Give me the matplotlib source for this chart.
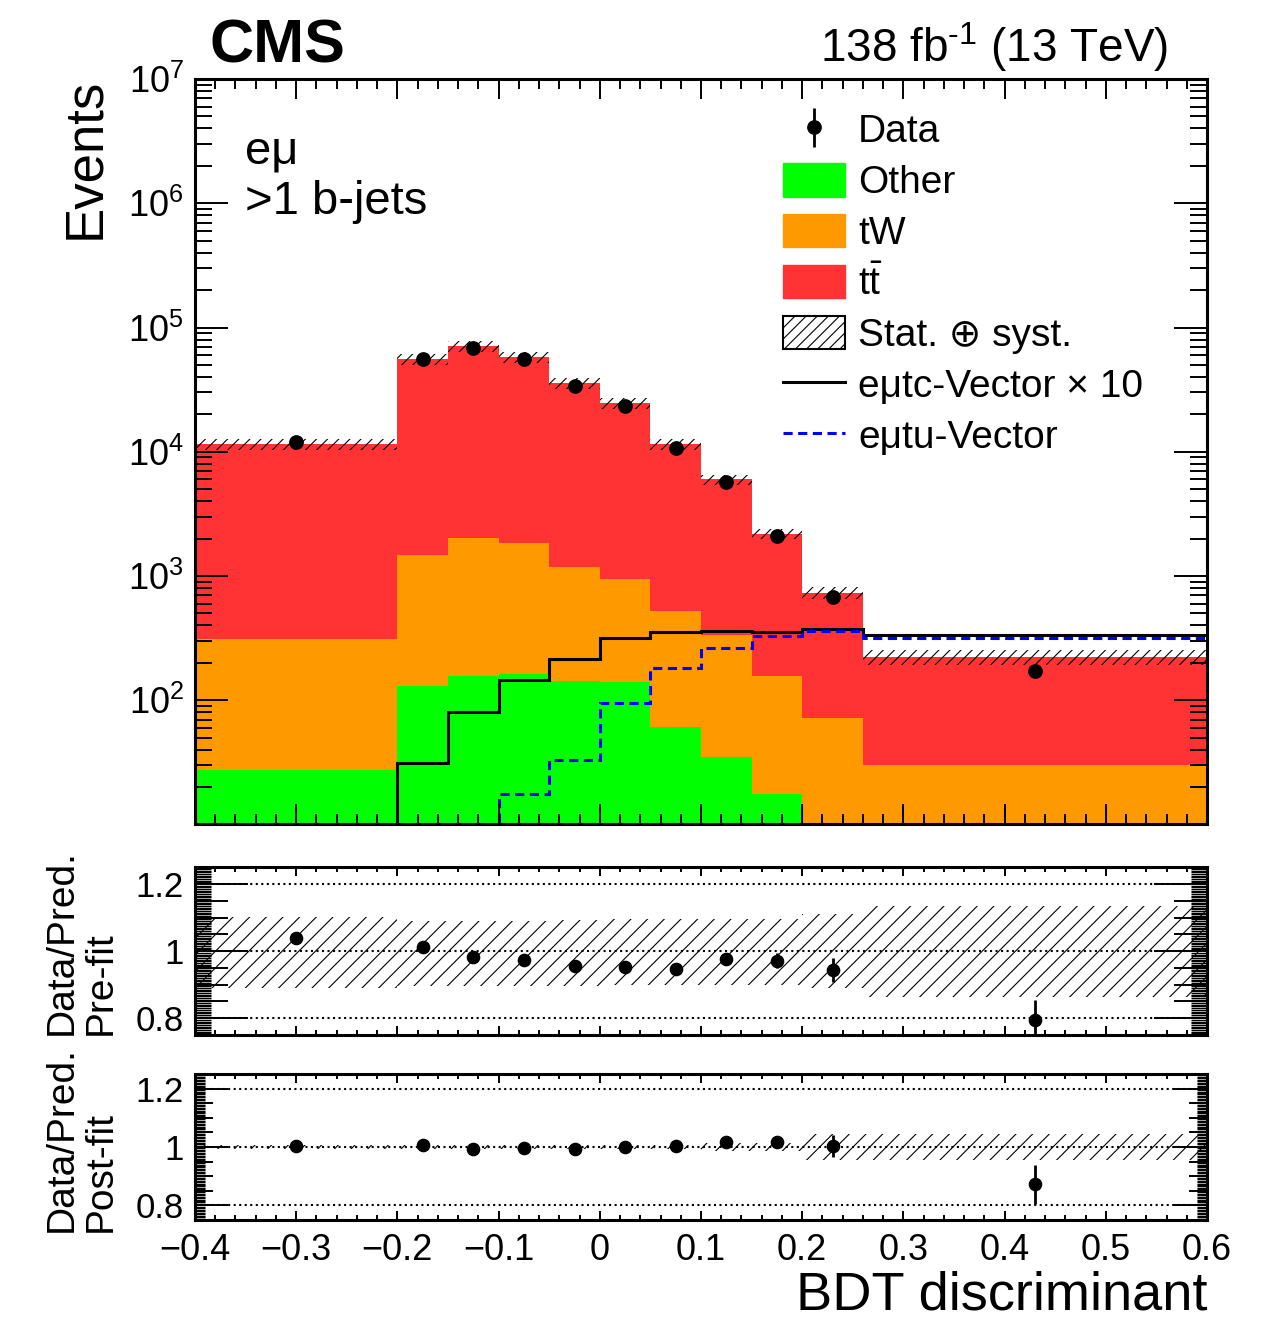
import numpy as np
import matplotlib
matplotlib.use('Agg')
import matplotlib.pyplot as plt
from matplotlib.patches import Patch
from matplotlib.lines import Line2D
from matplotlib.ticker import (FixedLocator, MultipleLocator, LogLocator,
                               FuncFormatter, NullFormatter, LogFormatterMathtext)

plt.rcParams['font.family'] = ['Liberation Sans', 'DejaVu Sans']
plt.rcParams['mathtext.fontset'] = 'custom'
plt.rcParams['mathtext.rm'] = 'Liberation Sans'
plt.rcParams['mathtext.it'] = 'Liberation Sans:italic'
plt.rcParams['mathtext.bf'] = 'Liberation Sans:bold'
plt.rcParams['hatch.linewidth'] = 0.8

# BDT binning (e-mu, >1 b-jets)
edges = np.array([-0.4, -0.2, -0.15, -0.1, -0.05, 0.0, 0.05, 0.1, 0.15, 0.2, 0.26, 0.6])
centers = 0.5 * (edges[1:] + edges[:-1])

data = np.array([12020, 55970, 68650, 55970, 33740, 23280, 10690, 5724, 2117, 679, 171])
data_err = np.array([110, 240, 260, 240, 185, 150, 105, 75, 46, 26, 13])

other = np.array([27.3, 130, 156, 162, 142, 140, 60.7, 34.8, 17.5, 0, 0])
tw = np.array([283, 1360, 1850, 1675, 1040, 800, 460, 299, 138, 72, 30])
ttbar = np.array([11200, 54300, 68800, 56300, 34500, 23800, 11000, 5650, 2040, 659, 192])

sig_tc = np.array([0, 3.11, 8.0, 14.5, 21.4, 31.5, 35.3, 36.0, 35.3, 37.3, 33.4])
sig_tc_scale = 10
sig_tu = np.array([0, 0, 0, 17.5, 32.9, 94.6, 181, 262, 327, 360, 315])

# relative stat+syst uncertainty of the prediction (pre-fit)
pre_unc_up = np.array([0.103, 0.091, 0.091, 0.091, 0.094, 0.096, 0.096, 0.096, 0.096, 0.11, 0.136])
pre_unc_dn = np.array([0.109, 0.105, 0.105, 0.105, 0.103, 0.10, 0.10, 0.10, 0.10, 0.11, 0.138])
post_unc = np.array([0.006, 0.006, 0.006, 0.006, 0.006, 0.006, 0.006, 0.012, 0.012, 0.043, 0.043])

ratio_pre = np.array([1.039, 1.011, 0.984, 0.975, 0.955, 0.954, 0.947, 0.977, 0.972, 0.944, 0.795])
ratio_pre_err = np.array([0.01, 0.005, 0.004, 0.005, 0.006, 0.007, 0.01, 0.014, 0.022, 0.036, 0.06])
ratio_post = np.array([1.003, 1.006, 0.994, 0.997, 0.994, 1.0, 1.002, 1.018, 1.017, 1.003, 0.872])
ratio_post_err = np.array([0.008, 0.004, 0.004, 0.004, 0.005, 0.006, 0.008, 0.012, 0.02, 0.037, 0.066])

RED = '#ff3333'
ORANGE = '#ff9900'
GREEN = '#00ff00'

W, H = 1270, 1320
fig = plt.figure(figsize=(W / 100, H / 100), dpi=100)


def box(l, t, r, b):
    return [l / W, 1 - b / H, (r - l) / W, (b - t) / H]


ax = fig.add_axes(box(195, 79, 1207, 823.5))
ax_pre = fig.add_axes(box(195, 867.3, 1207, 1035))
ax_post = fig.add_axes(box(195, 1074, 1207, 1220))

# ---- main panel: stacked backgrounds
ax.set_yscale('log')
ax.set_xlim(-0.4, 0.6)
ax.set_ylim(10.2, 1e7)

s_other = other
s_tw = other + tw
s_tot = other + tw + ttbar
ax.stairs(s_tot, edges, baseline=1, fill=True, color=RED, lw=0)
ax.stairs(s_tw, edges, baseline=1, fill=True, color=ORANGE, lw=0)
ax.stairs(s_other, edges, baseline=1, fill=True, color=GREEN, lw=0)
ax.stairs(s_tot * (1 + pre_unc_up), edges, baseline=s_tot * (1 - pre_unc_dn), fill=True,
          facecolor='none', edgecolor='k', lw=0, hatch='///')

ax.stairs(sig_tc * sig_tc_scale, edges, baseline=None, color='k', lw=2.2)
ax.stairs(sig_tu, edges, baseline=None, color='#0000ff', lw=2.2, linestyle=(0, (3, 1.8)))

hdata = ax.errorbar(centers, data, yerr=data_err, fmt='o', color='k', ms=9.6,
                    elinewidth=2, capsize=0)

ax.xaxis.set_major_locator(MultipleLocator(0.1))
ax.xaxis.set_minor_locator(MultipleLocator(0.02))
ax.yaxis.set_major_locator(LogLocator(base=10, numticks=20))
ax.yaxis.set_minor_locator(LogLocator(base=10, subs=np.arange(2, 10), numticks=20))
ax.yaxis.set_major_formatter(LogFormatterMathtext())
ax.yaxis.set_minor_formatter(NullFormatter())
ax.tick_params(which='both', direction='in', top=True, right=True, labelbottom=False, width=1.4)
ax.tick_params(axis='x', which='major', length=14.4)
ax.tick_params(axis='x', which='minor', length=7.2)
ax.tick_params(axis='y', which='major', length=24, labelsize=26, pad=8)
ax.tick_params(axis='y', which='minor', length=12)
for sp in ax.spines.values():
    sp.set_linewidth(2.2)

# ---- ratio panels
fmt = FuncFormatter(lambda v, p: '0' if abs(v) < 1e-9 else ('%g' % v).replace('-', '\u2212'))


def ratio_panel(a, ratio, err, up, dn, major_len, mid_len, fine_len):
    a.set_xlim(-0.4, 0.6)
    a.set_ylim(0.75, 1.25)
    a.stairs(1 + up, edges, baseline=1 - dn, fill=True, facecolor='none',
             edgecolor='k', lw=0, hatch='//')
    for v in (0.8, 1.0, 1.2):
        a.axhline(v, color='k', lw=1.5, ls=':')
    a.errorbar(centers, ratio, yerr=err, fmt='o', color='k', ms=8.8,
               elinewidth=2, capsize=0)
    a.xaxis.set_major_locator(MultipleLocator(0.1))
    a.xaxis.set_minor_locator(MultipleLocator(0.02))
    a.xaxis.set_major_formatter(fmt)
    a.yaxis.set_major_locator(FixedLocator([0.8, 1.0, 1.2]))
    a.yaxis.set_minor_locator(MultipleLocator(0.005))
    a.yaxis.set_major_formatter(fmt)
    a.tick_params(which='both', direction='in', top=True, right=True, width=1.4)
    a.tick_params(axis='x', which='major', length=6.5, labelsize=26, pad=9)
    a.tick_params(axis='x', which='minor', length=3.6)
    a.tick_params(axis='y', which='major', length=major_len, labelsize=25, pad=8)
    a.tick_params(axis='y', which='minor', length=fine_len, width=1.0)
    for side in ('left', 'right'):
        sec = a.secondary_yaxis(side)
        sec.set_yticks(np.arange(0.75, 1.2501, 0.05))
        sec.tick_params(direction='in', length=mid_len, width=1.4,
                        labelleft=False, labelright=False)
        sec.spines[side].set_visible(False)
    for sp in a.spines.values():
        sp.set_linewidth(2.2)


ratio_panel(ax_pre, ratio_pre, ratio_pre_err, pre_unc_up, pre_unc_dn, 38, 24, 11.5)
ratio_panel(ax_post, ratio_post, ratio_post_err, post_unc, post_unc, 24, 13, 7)
ax_pre.tick_params(labelbottom=False)

# ---- legend
handles = [
    hdata,
    Patch(facecolor=GREEN, edgecolor=GREEN),
    Patch(facecolor=ORANGE, edgecolor=ORANGE),
    Patch(facecolor=RED, edgecolor=RED),
    Patch(facecolor='white', edgecolor='k', hatch='///', lw=1.5),
    Line2D([], [], color='k', lw=2.2),
    Line2D([], [], color='#0000ff', lw=2.2, linestyle=(0, (3, 1.8))),
]
labels = ['Data', 'Other', 'tW', r'$\mathrm{t\bar{t}}$', 'Stat. \u2295 syst.',
          'e\u03bctc-Vector \u00d7 10', 'e\u03bctu-Vector']
fig.legend(handles, labels, loc='upper left', bbox_to_anchor=(782.7 / W, 1 - 112 / H),
           frameon=False, fontsize=28, handlelength=1.61, handleheight=0.95,
           handletextpad=0.33, labelspacing=0.33, borderpad=0, borderaxespad=0)

# ---- texts
fig.text(209 / W, 1 - 62.7 / H, 'CMS', fontsize=44, fontweight='bold', va='baseline')
fig.text(1168 / W, 1 - 62 / H, r'138 fb$^{\text{-1}}$ (13 TeV)', fontsize=33,
         ha='right', va='baseline')
fig.text(245 / W, 1 - 163 / H, 'e\u03bc', fontsize=34, va='baseline')
fig.text(245 / W, 1 - 214 / H, '>1 b-jets', fontsize=34, va='baseline')
fig.text(85 / W, 1 - 78 / H, 'Events', fontsize=38, rotation=90, ha='center', va='top')
fig.text(1207 / W, 1 - 1309 / H, 'BDT discriminant', fontsize=39, ha='right', va='baseline')
fig.text(81 / W, 1 - 1035 / H, 'Data/Pred.\nPre-fit', fontsize=28, rotation=90,
         ha='center', va='bottom', multialignment='left', linespacing=1.1)
fig.text(81 / W, 1 - 1232 / H, 'Data/Pred.\nPost-fit', fontsize=28, rotation=90,
         ha='center', va='bottom', multialignment='left', linespacing=1.1)

fig.savefig('out.png', dpi=100)
